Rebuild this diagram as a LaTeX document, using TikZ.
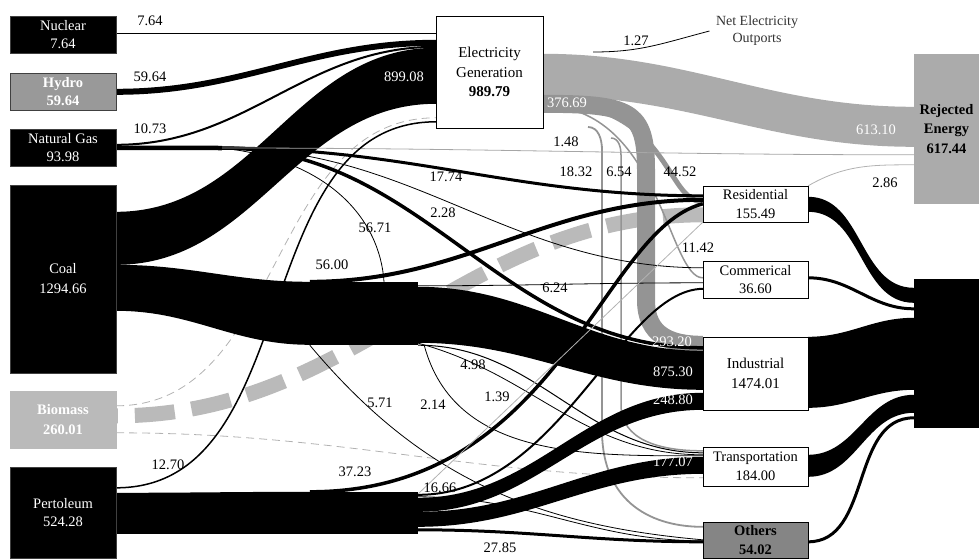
\documentclass[tikz,border=0pt]{standalone}
\usepackage{fontspec}
\setmainfont{Liberation Serif}
\usetikzlibrary{backgrounds}

\colorlet{hydrogray}{black!40}
\colorlet{biogray}{black!27}
\colorlet{rejgray}{black!33}
\colorlet{elecgray}{black!42}
\colorlet{othgray}{black!48}

% filled band between two node sides, offsets are measured down from the top edges
\newcommand{\band}[7]{%
  \fill[#1] ([yshift=-#3pt]#2) to[out=0,in=180] ([yshift=-#6pt]#5)
    -- ([yshift=-#7pt]#5) to[out=180,in=0] ([yshift=-#4pt]#2) -- cycle;}

\begin{document}
\begin{tikzpicture}%
  [x=1pt,y=-1pt,font=\fontsize{14.5}{18.5}\selectfont]
  \tikzstyle{src node}=[rectangle,draw=black!75,fill=black,text=white,align=center,inner sep=1pt,minimum width=106pt,minimum height=37pt]
  \tikzstyle{use node}=[rectangle,draw=black,fill=white,align=center,inner sep=1pt,minimum width=105pt,minimum height=37pt]
  \tikzstyle{hid node}=[rectangle,fill=black,inner sep=0pt,minimum width=108pt]
  \tikzstyle{num}=[inner sep=1pt,font=\fontsize{14.5}{16}\selectfont]
  \tikzstyle{wnum}=[num,text=white]
  \tikzstyle{fine}=[line width=0.8pt]
  \tikzstyle{dashline}=[draw=black!30,line width=0.8pt,dash pattern=on 8pt off 5pt]
  \useasboundingbox (0,0) rectangle (979,558);

  % sources
  \node (nuc) [src node] at (63,34.5) {Nuclear\\7.64};
  \node (hyd) [src node,fill=hydrogray,font=\fontsize{14.5}{18.5}\selectfont\bfseries] at (63,91.5) {Hydro\\59.64};
  \node (gas) [src node] at (63,147.5) {Natural Gas\\93.98};
  \node (coal) [src node,minimum height=188pt,font=\fontsize{14.5}{20}\selectfont] at (63,279) {Coal\\1294.66};
  \node (bio) [src node,fill=biogray,draw=biogray,minimum height=57pt,font=\fontsize{14.5}{20}\selectfont\bfseries] at (63,419.5) {Biomass\\260.01};
  \node (pet) [src node,minimum height=91pt] at (63,512.5) {Pertoleum\\524.28};

  % middle
  \node (elec) [use node,minimum width=107pt,minimum height=112pt,font=\fontsize{15}{19.5}\selectfont] at (489.5,72) {Electricity\\Generation\\\textbf{989.79}};
  \node (cblk) [hid node,minimum height=63pt] at (364,313.5) {};
  \node (pblk) [hid node,minimum height=42pt] at (364,513) {};
  \node (netx) [align=center,text=black!80,font=\fontsize{14}{17}\selectfont] at (757,31) {Net Electricity\\Outports};

  % sectors
  \node (res) [use node,minimum height=36pt] at (755.5,204) {Residential\\155.49};
  \node (com) [use node] at (755.5,279.5) {Commerical\\36.60};
  \node (ind) [use node,minimum height=73pt,font=\fontsize{15}{20}\selectfont] at (755.5,373.5) {Industrial\\1474.01};
  \node (tra) [use node,minimum height=39pt] at (755.5,466.5) {Transportation\\184.00};
  \node (oth) [use node,fill=othgray,minimum height=36pt,font=\fontsize{14.5}{18.5}\selectfont\bfseries] at (755.5,540) {Others\\54.02};
  \node (rej) [rectangle,fill=rejgray,align=center,inner sep=1pt,minimum width=65pt,minimum height=150pt,font=\fontsize{14.5}{19.5}\selectfont\bfseries] at (946.5,129) {Rejected\\Energy\\617.44};
  \node (use) [rectangle,fill=black,inner sep=0pt,minimum width=65pt,minimum height=149pt] at (946.5,353.5) {};

  \coordinate (gk) at (222,148);
  \coordinate (e18) at (588,127);
  \coordinate (e6) at (611,138);
  \coordinate (ne) at (593,52);

  \begin{pgfonlayer}{background}
    % biomass
    \draw[biogray,line width=15pt,dash pattern=on 40pt off 17pt] ([yshift=-29pt]res.north west) to[out=180,in=0] ([yshift=-25pt]bio.north east);
    \draw[dashline] ([yshift=-15pt]bio.north east) to[out=0,in=180] ([yshift=-102pt]elec.north west);
    \draw[dashline] ([yshift=-42pt]bio.north east) to[out=0,in=180] ([yshift=-31pt]tra.north west);
    % electricity out
    \band{rejgray}{elec.north east}{38}{80}{rej.north west}{53}{93}
    \draw[fine] (ne) .. controls (640,52) and (660,44) .. ([xshift=-3pt]netx.west);
    \draw[elecgray,line width=18pt] ([yshift=-88pt]elec.north east) .. controls (630,104) and (646,110) .. (646,170) -- (646,300) .. controls (646,335) and (670,345) .. ([yshift=-8pt]ind.north west);
    \draw[elecgray,line width=5pt] ([yshift=-86pt]elec.north east) .. controls (670,102) and (665,202) .. ([yshift=-16pt]res.north west);
    \draw[elecgray,line width=1.5pt] ([yshift=-90pt]elec.north east) .. controls (660,106) and (668,278) .. ([yshift=-17pt]com.north west);
    \draw[elecgray,line width=1.8pt] (e18) to[out=0,in=90] (602,150) -- (602,430) .. controls (602,505) and (655,527) .. ([yshift=-5pt]oth.north west);
    \draw[elecgray,line width=1.5pt] (e6) to[out=0,in=90] (621,155) -- (621,405) .. controls (621,440) and (660,451) .. ([yshift=-4pt]tra.north west);
    % bands
    \band{black}{hyd.north east}{16}{22}{elec.north west}{24}{30}
    \band{black}{coal.north east}{27}{80}{elec.north west}{32}{88}
    \band{black}{coal.north east}{80}{126}{cblk.north west}{0}{63}
    \band{black}{cblk.north east}{5}{61}{ind.north west}{14}{53}
    \band{black}{pet.north east}{26}{67}{pblk.north west}{0}{42}
    \band{black}{pblk.north east}{6}{20}{ind.north west}{56}{73}
    \band{black}{pblk.north east}{20}{35}{tra.north west}{10}{27}
    \band{black}{res.north east}{11}{26}{use.north west}{9}{24}
    \band{black}{ind.north east}{0}{71}{use.north west}{39}{111}
    \band{black}{tra.north east}{8}{30}{use.north west}{116}{134}
    % natural gas
    \draw[fine] ([yshift=-18pt]nuc.north east) -- ([yshift=-18pt]elec.north west);
    \draw[line width=2pt] ([yshift=-16pt]gas.north east) to[out=0,in=180] ([yshift=-31pt]elec.north west);
    \draw[line width=4.5pt] ([yshift=-19pt]gas.north east) -- (gk);
    \draw[line width=3pt] (gk) to[out=0,in=180] ([yshift=-10pt]res.north west);
    \draw[fine] (gk) to[out=0,in=180] ([yshift=-7pt]com.north west);
    \draw[line width=3.5pt] (gk) to[out=0,in=180] ([yshift=-11pt]ind.north west);
    \draw[fine] (gk) .. controls (330,160) and (380,220) .. ([xshift=20pt]cblk.north);
    \draw[draw=black!35,fine] (gk) to[out=0,in=180] ([yshift=-101pt]rej.north west);
    % coal
    \draw[line width=4pt] (cblk.north west) to[out=0,in=180] ([yshift=-14pt]res.north west);
    \draw[fine] ([yshift=-4pt]cblk.north east) to[out=0,in=180] ([yshift=-22pt]com.north west);
    \draw[line width=1pt] (cblk.south east) to[out=0,in=180] ([yshift=-6pt]tra.north west);
    \draw[fine] ([yshift=2pt]cblk.south east) to[out=-15,in=180] ([yshift=-8pt]tra.north west);
    \draw[fine] ([xshift=6pt]cblk.south east) to[out=-75,in=180] ([yshift=-9pt]tra.north west);
    \draw[fine] (cblk.south west) to[out=-50,in=175] ([yshift=-18pt]oth.north west);
    % petroleum
    \draw[line width=1.5pt] ([yshift=-21pt]pet.north east) to[out=0,in=180] ([yshift=-106pt]elec.north west);
    \draw[line width=3.5pt] (pblk.north west) .. controls (560,492) and (600,230) .. ([yshift=-18pt]res.north west);
    \draw[line width=2pt] ([yshift=-3pt]pblk.north east) .. controls (560,495) and (620,290) .. ([yshift=-28pt]com.north west);
    \draw[line width=3pt] ([yshift=-38pt]pblk.north east) to[out=0,in=180] ([yshift=-20pt]oth.north west);
    \draw[fine] ([yshift=-5pt]pblk.north east) to[out=0,in=180] ([yshift=-19pt]oth.north west);
    \draw[draw=black!30,fine] ([yshift=-2pt]pblk.north east) -- (res.south west);
    % to the right
    \draw[draw=black!30,fine] (res.north east) to[out=30,in=180] ([yshift=-111pt]rej.north west);
    \draw[line width=3pt] ([yshift=-17pt]com.north east) to[out=0,in=180] ([yshift=-30pt]use.north west);
    \draw[line width=3pt] ([yshift=-20pt]oth.north east) to[out=0,in=180] ([yshift=-139pt]use.north west);
  \end{pgfonlayer}

  % labels
  \node (lnuc) [num] at (150,21) {7.64};
  \node (lhyd) [num] at (150,77) {59.64};
  \node (lgas) [num] at (150,129) {10.73};
  \node (lce) [wnum] at (404,77) {899.08};
  \node (lee) [wnum] at (567,103) {376.69};
  \node (lnet) [num] at (636,41) {1.27};
  \node (lrej) [wnum] at (876,130) {613.10};
  \node (lng) [num] at (566,142) {1.48};
  \node (lngr) [num] at (446,177) {17.74};
  \node (leo) [num] at (576,172) {18.32};
  \node (let) [num] at (619,172) {6.54};
  \node (ler) [num] at (680,172) {44.52};
  \node (lrr) [num] at (885,183) {2.86};
  \node (lngc) [num] at (443,213) {2.28};
  \node (lngi) [num] at (375,228) {56.71};
  \node (lec) [num] at (698,248) {11.42};
  \node (lcr) [num] at (332,265) {56.00};
  \node (lcc) [num] at (555,288) {6.24};
  \node (lei) [wnum] at (672,342) {293.20};
  \node (lci) [wnum] at (673,372) {875.30};
  \node (lpi) [wnum] at (673,400) {248.80};
  \node (lct) [num] at (473,365) {4.98};
  \node (lco) [num] at (497,397) {1.39};
  \node (lct2) [num] at (433,405) {2.14};
  \node (lco2) [num] at (380,403) {5.71};
  \node (lpe) [num] at (168,465) {12.70};
  \node (lpr) [num] at (355,472) {37.23};
  \node (lpc) [num] at (440,488) {16.66};
  \node (lpt) [wnum] at (673,462) {177.07};
  \node (lpo) [num] at (500,548) {27.85};
\end{tikzpicture}
\end{document}
